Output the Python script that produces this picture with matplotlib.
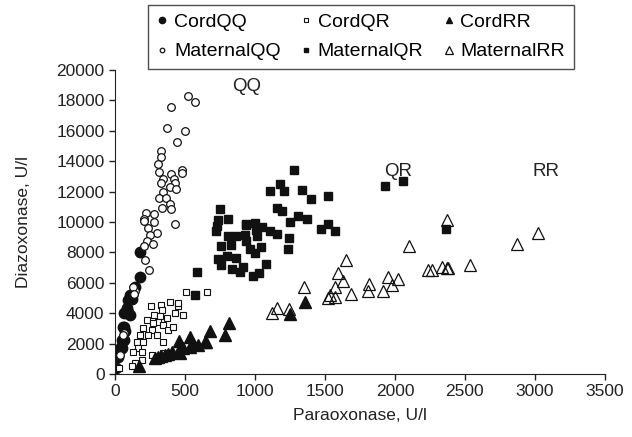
import matplotlib
matplotlib.use("Agg")
import matplotlib.pyplot as plt

# ---- data ----
cord_qq_x = [10, 24, 41, 48, 67, 71, 83, 107, 119, 143, 179, 179, 95, 64, 60, 64, 48, 24, 95, 119, 107]
cord_qq_y = [380, 1470, 1800, 2240, 3110, 2830, 4320, 3880, 4930, 5700, 8000, 6400, 4870, 3990, 3110, 2240, 1690, 1140, 4100, 5200, 5200]

maternal_qq_x = [524, 569, 400, 371, 502, 440, 331, 329, 305, 314, 400, 476, 476, 343, 421, 329, 429,
                 390, 438, 340, 312, 364, 393, 398, 338, 224, 279, 210, 207, 279, 238, 302, 250, 229,
                 274, 210, 431, 217, 245, 143, 131, 136, 64, 36, 60]
maternal_qq_y = [18300, 17870, 17550, 16180, 15960, 15280, 14670, 14300, 13800, 13260, 13130, 13420, 13240,
                 12800, 12800, 12540, 12540, 12280, 12190, 11970, 11600, 11600, 11180, 10860, 10900, 10590,
                 10530, 10180, 10070, 9980, 9580, 9250, 9140, 8770, 8550, 8440, 9870, 7500, 6840, 5480,
                 5700, 5260, 2680, 1250, 2570]

cord_qr_x = [507, 655, 257, 329, 393, 452, 333, 281, 321, 429, 483, 369, 226, 310, 274, 345, 202, 262,
             381, 179, 238, 298, 155, 202, 345, 167, 131, 190, 262, 345, 143, 119, 31, 190, 452, 412]
cord_qr_y = [5380, 5380, 4500, 4570, 4720, 4470, 4210, 3880, 3820, 3990, 3880, 3660, 3550, 3440, 3330,
             3220, 3000, 2890, 2890, 2570, 2570, 2570, 2130, 2130, 2130, 1690, 1470, 1470, 1250, 1360,
             700, 530, 380, 920, 4650, 3070]

maternal_qr_x = [1279, 1929, 2055, 2364, 1179, 1107, 1207, 1336, 1400, 1521, 750, 1155, 1195, 1309, 1250,
                 1374, 738, 810, 726, 719, 936, 1000, 1048, 1107, 1155, 1007, 929, 1012, 810, 864, 1474,
                 1519, 1571, 1243, 1233, 755, 826, 936, 964, 1000, 1040, 798, 738, 864, 755, 917, 838,
                 893, 1079, 1031, 988, 583, 571, 933]
maternal_qr_y = [13420, 12390, 12720, 9540, 12480, 12040, 12040, 12110, 11510, 11730, 10860, 10900, 10720,
                 10420, 10020, 10200, 10130, 10200, 9710, 9410, 9800, 9910, 9650, 9430, 9210, 9470, 9140,
                 9060, 9080, 9060, 9540, 9840, 9380, 8930, 8220, 8450, 8490, 8720, 8220, 7930, 8330, 7790,
                 7540, 7610, 7170, 7060, 6890, 6730, 7210, 6670, 6450, 6730, 5200, 9870]

cord_rr_x = [1357, 817, 786, 679, 643, 595, 536, 559, 536, 488, 464, 650, 460, 452, 405, 357, 310, 286,
             174, 1250, 380, 330]
cord_rr_y = [4760, 3330, 2570, 2850, 2130, 1910, 2460, 2010, 1800, 1690, 1360, 2130, 2170, 1470, 1470,
             1250, 1140, 1030, 530, 3950, 1300, 1200]

maternal_rr_x = [2371, 3019, 2869, 2100, 2540, 2333, 2369, 2262, 2238, 1948, 2024, 1976, 1912, 1648,
                 1595, 1631, 1571, 1536, 1571, 1524, 1683, 1814, 1805, 1352, 1119, 1155, 1245, 2380]
maternal_rr_y = [10130, 9250, 8550, 8420, 7170, 7020, 6960, 6840, 6840, 6400, 6230, 5860, 5460, 7500,
                 6620, 6140, 5750, 5200, 5090, 4980, 5240, 5920, 5480, 5700, 4030, 4320, 4250, 7000]

x_ticks = [0, 500, 1000, 1500, 2000, 2500, 3000, 3500]
y_ticks = [0, 2000, 4000, 6000, 8000, 10000, 12000, 14000, 16000, 18000, 20000]

plt.rcParams['font.family'] = ['Liberation Sans', 'DejaVu Sans']

fig = plt.figure(figsize=(6.32, 4.37), dpi=100)
ax = fig.add_axes([0.182, 0.144, 0.775, 0.696])

h_cqq, = ax.plot(cord_qq_x, cord_qq_y, 'o', ms=7.5, mfc='#111111', mec='#111111', label='CordQQ')
h_mqq, = ax.plot(maternal_qq_x, maternal_qq_y, 'o', ms=5.5, mfc='white', mec='#111111', mew=0.9, label='MaternalQQ')
h_cqr, = ax.plot(cord_qr_x, cord_qr_y, 's', ms=4.5, mfc='white', mec='#111111', mew=0.8, label='CordQR')
h_mqr, = ax.plot(maternal_qr_x, maternal_qr_y, 's', ms=6, mfc='#111111', mec='#111111', label='MaternalQR')
h_crr, = ax.plot(cord_rr_x, cord_rr_y, '^', ms=8, mfc='#111111', mec='#111111', label='CordRR')
h_mrr, = ax.plot(maternal_rr_x, maternal_rr_y, '^', ms=8.5, mfc='none', mec='#111111', mew=0.9, label='MaternalRR')

ax.set_xlim(0, 3500)
ax.set_ylim(0, 20000)
ax.set_xticks(x_ticks)
ax.set_yticks(y_ticks)
ax.tick_params(direction='out', length=4, width=1, labelsize=12.5, colors='#222222')
for s in ['top', 'right']:
    ax.spines[s].set_visible(False)
for s in ['left', 'bottom']:
    ax.spines[s].set_color('#222222')

ax.set_xlabel('Paraoxonase, U/l', fontsize=12.5, color='#222222', labelpad=6)
ax.set_ylabel('Diazoxonase, U/l', fontsize=12.5, color='#222222', labelpad=18)

ax.text(943, 18880, 'QQ', fontsize=13.5, ha='center', va='center', color='#222222')
ax.text(2021, 13290, 'QR', fontsize=13.5, ha='center', va='center', color='#222222')
ax.text(3079, 13290, 'RR', fontsize=13.5, ha='center', va='center', color='#222222')

handles = [h_cqq, h_mqq, h_cqr, h_mqr, h_crr, h_mrr]
leg = ax.legend(handles=handles, ncol=3, loc='upper left', bbox_to_anchor=(0.067, 1.214),
                fontsize=14, markerscale=0.6, frameon=True, fancybox=False, handlelength=0.6,
                handletextpad=0.3, columnspacing=1.0, labelspacing=0.6, borderpad=0.45,
                borderaxespad=0)
leg.get_frame().set_edgecolor('#222222')
leg.get_frame().set_linewidth(1.0)

fig.savefig('out.png', dpi=100)
